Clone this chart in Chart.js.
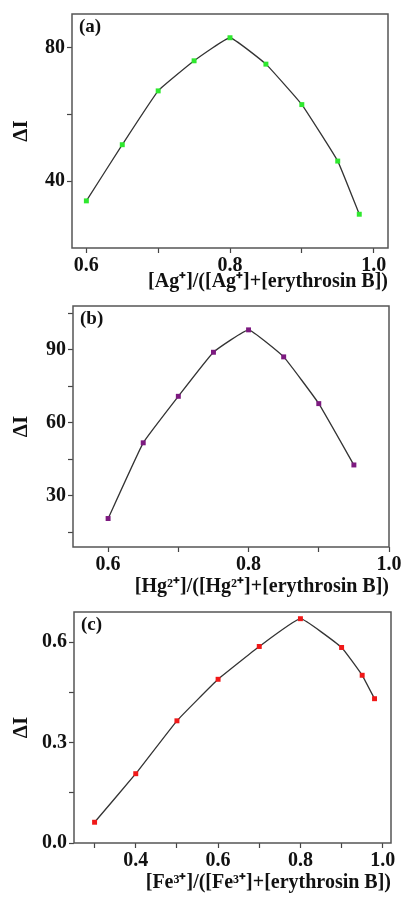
<!DOCTYPE html>
<html>
<head>
<meta charset="utf-8">
<script src="https://cdn.jsdelivr.net/npm/chart.js@4.4.1/dist/chart.umd.min.js"></script>
<style>
body { margin: 0; background: #fff; }
#wrap { position: relative; width: 409px; height: 899px; }
canvas { position: absolute; left: 0; }
</style>
</head>
<body>
<div id="wrap">
<canvas id="chart_a" width="409" height="292" style="top:0px"></canvas>
<canvas id="chart_b" width="409" height="306" style="top:292px"></canvas>
<canvas id="chart_c" width="409" height="301" style="top:598px"></canvas>
</div>
<script>
// (a) Ag+
var agX = [0.6, 0.65, 0.7, 0.75, 0.8, 0.85, 0.9, 0.95, 0.98];
var agY = [34.1, 50.9, 67, 76, 82.9, 75, 62.9, 46, 30.1];
var agXTicks = [0.6, 0.7, 0.8, 0.9, 1.0];
var agXLabels = [0.6, 0.8, 1.0];
var agYTicks = [40, 60, 80];
var agYLabels = [40, 80];

// (b) Hg2+
var hgX = [0.6, 0.65, 0.7, 0.75, 0.8, 0.85, 0.9, 0.95];
var hgY = [20.7, 51.8, 70.9, 89, 98.2, 87.1, 67.9, 42.7];
var hgXTicks = [0.6, 0.7, 0.8, 0.9, 1.0];
var hgXLabels = [0.6, 0.8, 1.0];
var hgYTicks = [15, 30, 45, 60, 75, 90, 105];
var hgYLabels = [30, 60, 90];

// (c) Fe3+
var feX = [0.3, 0.4, 0.5, 0.6, 0.7, 0.8, 0.9, 0.95, 0.98];
var feY = [0.062, 0.207, 0.365, 0.489, 0.587, 0.670, 0.584, 0.501, 0.431];
var feXTicks = [0.3, 0.4, 0.5, 0.6, 0.7, 0.8, 0.9, 1.0];
var feXLabels = [0.4, 0.6, 0.8, 1.0];
var feYTicks = [0, 0.15, 0.3, 0.45, 0.6];
var feYLabels = [0, 0.3, 0.6];

var serif = "'Liberation Serif', 'Times New Roman', serif";

// frame around the plot area + panel letter
var framePlugin = {
    id: "frame",
    afterDraw: function (chart) {
        var a = chart.chartArea, ctx = chart.ctx;
        ctx.save();
        ctx.strokeStyle = "#555";
        ctx.lineWidth = 1.5;
        ctx.strokeRect(a.left, a.top, a.right - a.left, a.bottom - a.top);
        ctx.fillStyle = "#111";
        ctx.font = "bold 19px " + serif;
        ctx.textBaseline = "middle";
        ctx.fillText(chart.options.plugins.frame.letter, a.left + 7, a.top + 13);
        ctx.restore();
    }
};

function has(list, v) {
    for (var i = 0; i < list.length; i++) {
        if (Math.abs(list[i] - v) < 1e-6) return true;
    }
    return false;
}

function makePanel(id, p) {
    var pts = [];
    for (var i = 0; i < p.x.length; i++) pts.push({ x: p.x[i], y: p.y[i] });
    var cv = document.getElementById(id);
    return new Chart(cv.getContext("2d"), {
        type: "line",
        data: {
            datasets: [{
                data: pts,
                borderColor: "#333",
                borderWidth: 1.3,
                tension: 0.1,
                pointStyle: "rect",
                pointRadius: 3.5,
                pointBackgroundColor: p.color,
                pointBorderColor: p.color,
                pointBorderWidth: 0
            }]
        },
        options: {
            responsive: false,
            animation: false,
            devicePixelRatio: 1,
            layout: { padding: { left: 0, top: p.area.top, right: 409 - p.area.right, bottom: 0 } },
            plugins: {
                legend: { display: false },
                tooltip: { enabled: false },
                frame: { letter: p.letter }
            },
            scales: {
                x: {
                    type: "linear",
                    min: p.xMin, max: p.xMax,
                    afterBuildTicks: function (s) { s.ticks = p.xTicks.map(function (v) { return { value: v }; }); },
                    afterFit: function (s) { s.height = cv.height - p.area.bottom; },
                    grid: { drawOnChartArea: false, tickLength: 5, color: "#444", tickWidth: 1.2 },
                    border: { display: false },
                    ticks: {
                        padding: 1,
                        color: "#111",
                        font: { family: serif, size: 20, weight: "bold" },
                        maxRotation: 0,
                        autoSkip: false,
                        callback: function (v) { return has(p.xLabels, v) ? v.toFixed(1) : ""; }
                    },
                    title: {
                        display: true,
                        text: p.xTitle,
                        align: "end",
                        color: "#111",
                        font: { family: serif, size: 20, weight: "bold", lineHeight: 1 },
                        padding: { top: 0, bottom: p.titlePad }
                    }
                },
                y: {
                    type: "linear",
                    min: p.yMin, max: p.yMax,
                    afterBuildTicks: function (s) { s.ticks = p.yTicks.map(function (v) { return { value: v }; }); },
                    afterFit: function (s) { s.width = p.area.left; },
                    grid: { drawOnChartArea: false, tickLength: 5, color: "#444", tickWidth: 1.2 },
                    border: { display: false },
                    ticks: {
                        padding: 2,
                        color: "#111",
                        font: { family: serif, size: 20, weight: "bold" },
                        autoSkip: false,
                        callback: function (v) { return has(p.yLabels, v) ? v.toFixed(p.yDec) : ""; }
                    },
                    title: {
                        display: true,
                        text: "\u0394I",
                        color: "#111",
                        font: { family: serif, size: 21, weight: "bold", lineHeight: 1.2 },
                        padding: { top: 9, bottom: 0 }
                    }
                }
            }
        },
        plugins: [framePlugin]
    });
}

makePanel("chart_a", {
    x: agX, y: agY, color: "#2ee82e", letter: "(a)",
    xMin: 0.58, xMax: 1.02, yMin: 20, yMax: 90,
    xTicks: agXTicks, xLabels: agXLabels, yTicks: agYTicks, yLabels: agYLabels, yDec: 0,
    xTitle: "[Ag\u207A]/([Ag\u207A]+[erythrosin B])",
    area: { left: 72, right: 388, top: 14, bottom: 248 }, titlePad: 0
});

makePanel("chart_b", {
    x: hgX, y: hgY, color: "#7d1a80", letter: "(b)",
    xMin: 0.55, xMax: 1.0, yMin: 9, yMax: 108,
    xTicks: hgXTicks, xLabels: hgXLabels, yTicks: hgYTicks, yLabels: hgYLabels, yDec: 0,
    xTitle: "[Hg\u00B2\u207A]/([Hg\u00B2\u207A]+[erythrosin B])",
    area: { left: 73, right: 389, top: 13, bottom: 255 }, titlePad: 1
});

makePanel("chart_c", {
    x: feX, y: feY, color: "#f01818", letter: "(c)",
    xMin: 0.25, xMax: 1.02, yMin: 0, yMax: 0.69,
    xTicks: feXTicks, xLabels: feXLabels, yTicks: feYTicks, yLabels: feYLabels, yDec: 1,
    xTitle: "[Fe\u00B3\u207A]/([Fe\u00B3\u207A]+[erythrosin B])",
    area: { left: 74, right: 391, top: 10, bottom: 245 }, titlePad: 6
});
</script>
</body>
</html>
